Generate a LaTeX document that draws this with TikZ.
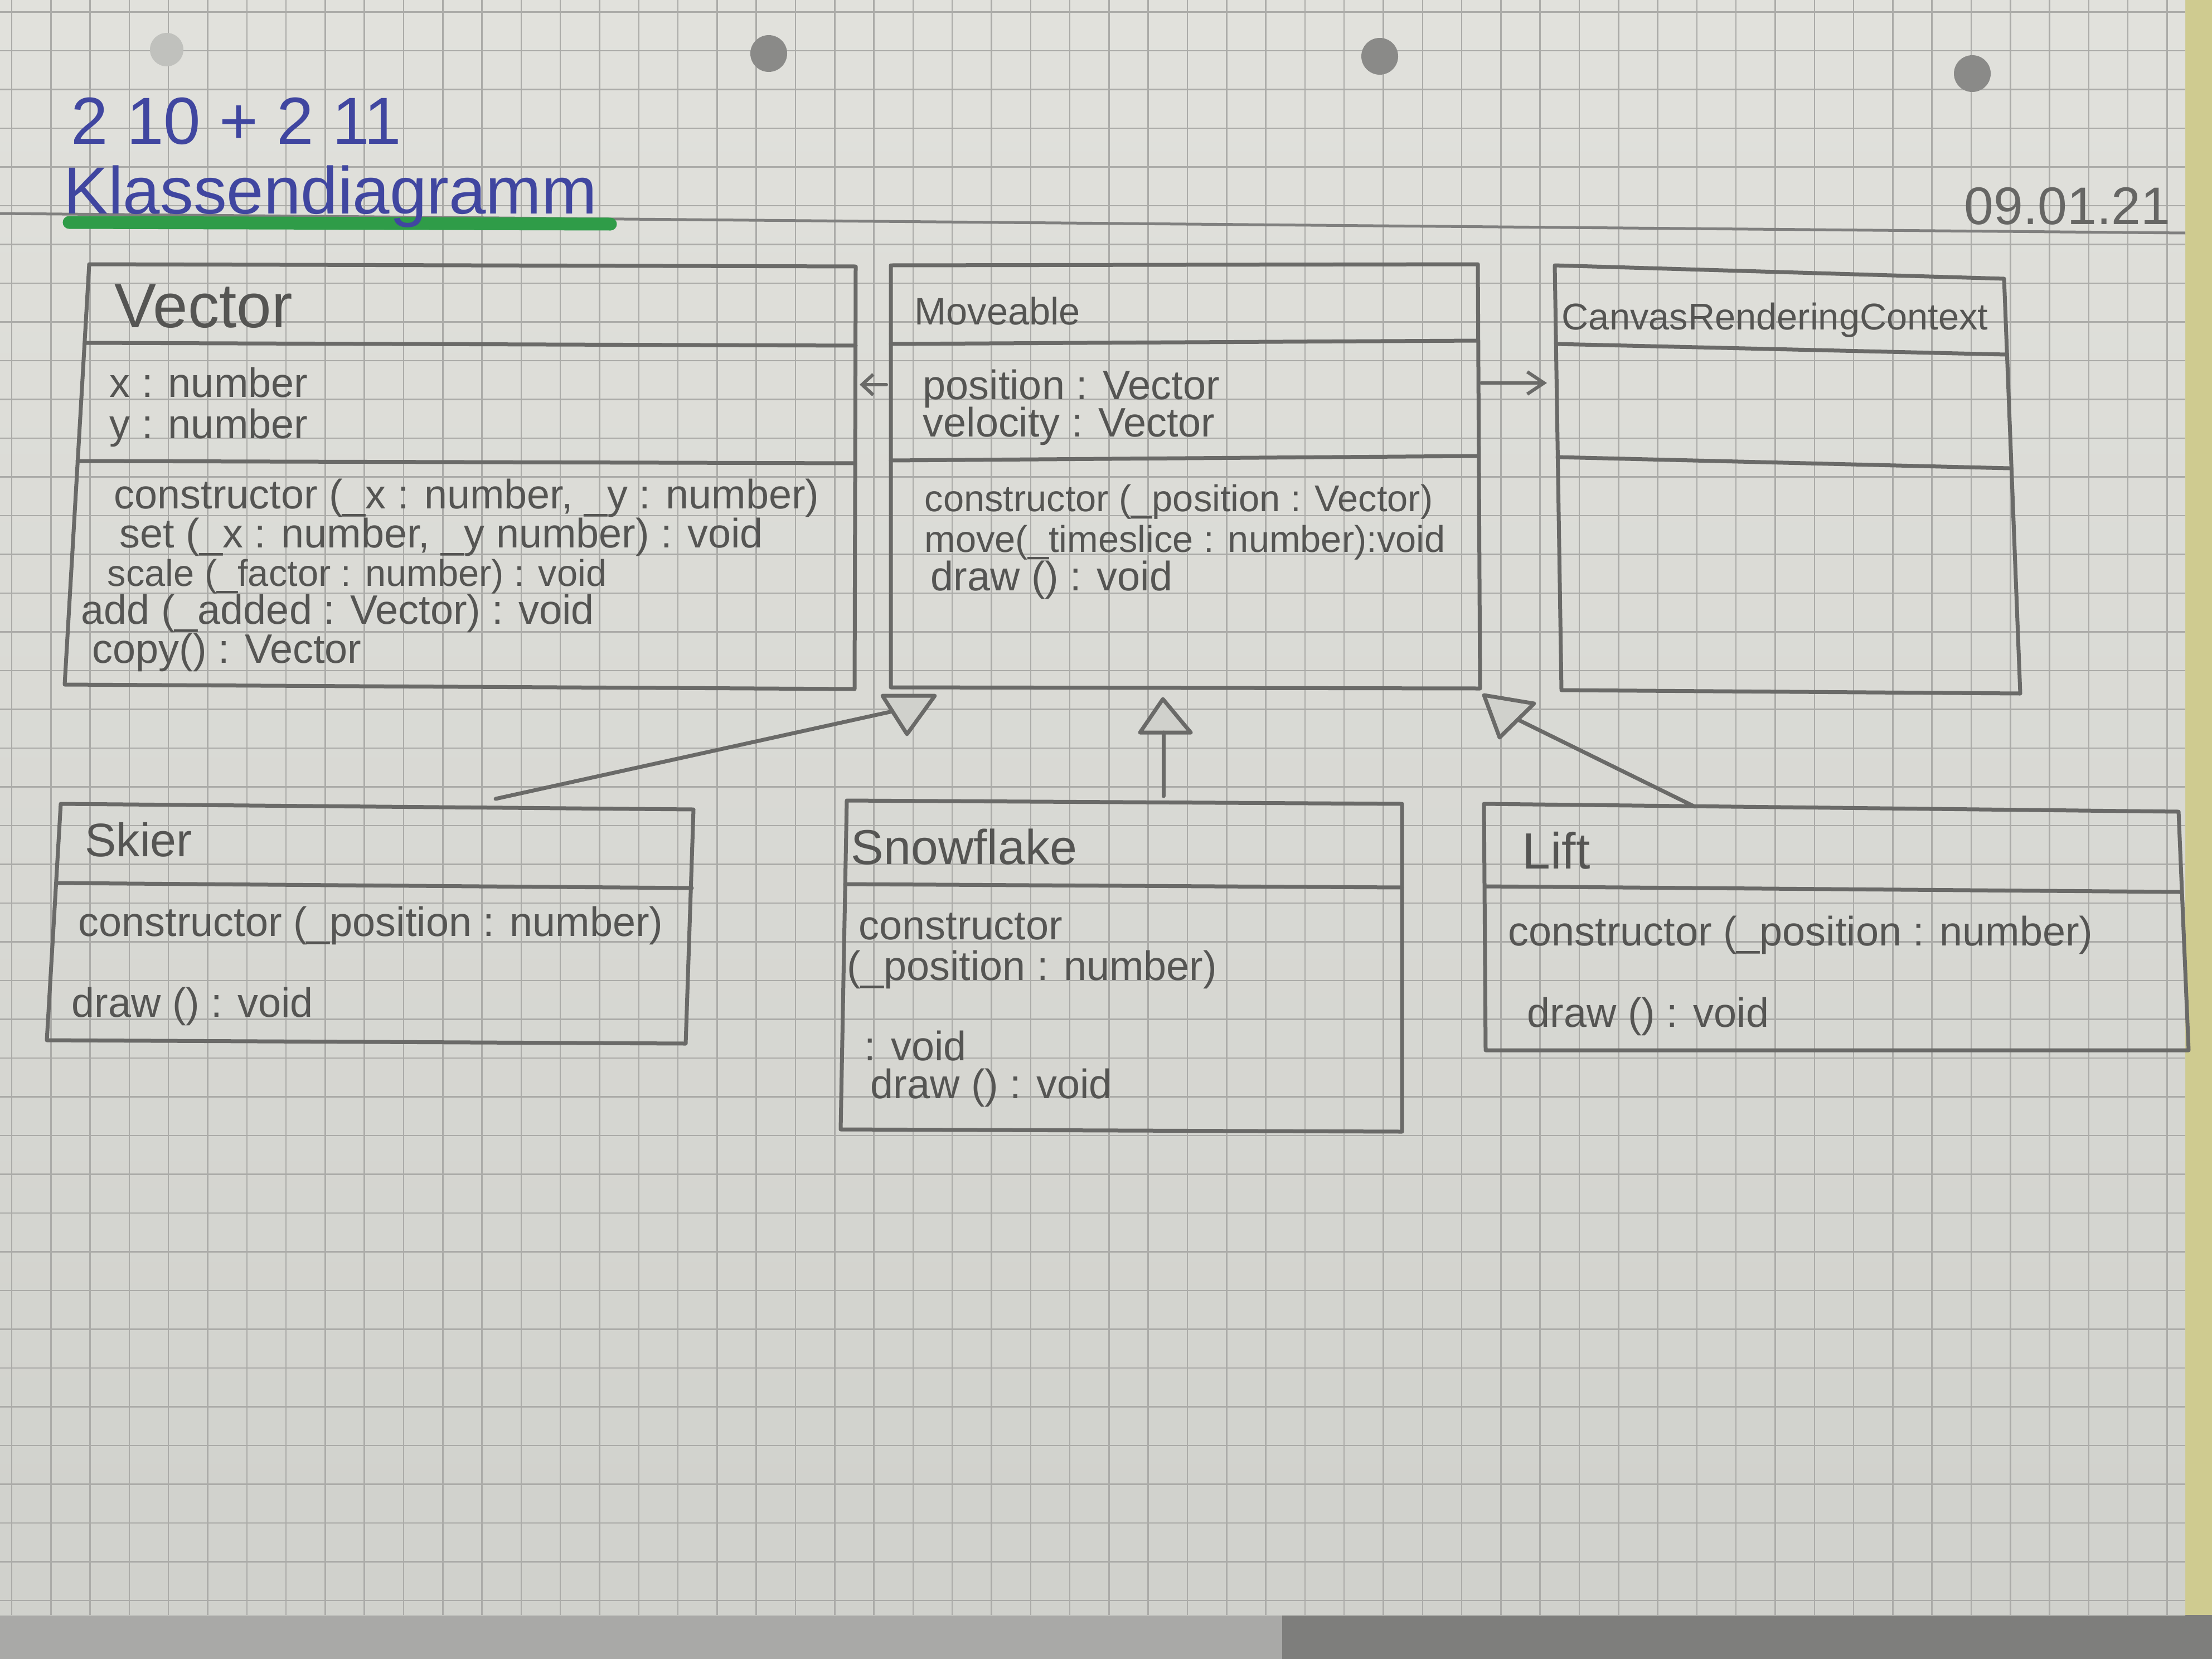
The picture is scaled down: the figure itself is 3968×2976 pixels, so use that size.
\documentclass[tikz,border=0pt]{standalone}
\usepackage{fontspec}
\setmainfont{Liberation Sans}
\usetikzlibrary{arrows.meta}

\definecolor{paperlight}{HTML}{E1E1DC}
\definecolor{paperdark}{HTML}{D0D1CC}
\definecolor{gridc}{HTML}{ABABA8}
\definecolor{pencilc}{HTML}{6A6A68}
\definecolor{textc}{HTML}{555553}
\definecolor{inkblue}{HTML}{4046A0}
\definecolor{markergreen}{HTML}{2F9C48}
\definecolor{deskyellow}{HTML}{CFCB90}
\definecolor{floorgrey}{HTML}{A9A9A7}
\definecolor{floordark}{HTML}{7E7E7C}
\definecolor{holec}{HTML}{8A8A88}

\tikzset{
  gridline/.style={draw=gridc, line width=0.25mm},
  pencil/.style={draw=pencilc, line width=0.7mm, line cap=round, line join=round},
  member/.style={anchor=base west, inner sep=0pt, text=textc,
    font=\fontsize{21pt}{23pt}\selectfont},
  narrowmember/.style={member, font=\fontsize{19pt}{21pt}\selectfont},
  classname/.style={anchor=base west, inner sep=0pt, text=textc},
  gentri/.style={pencil, fill=paperdark},
  assoc/.style={pencil, line width=0.6mm, -{Straight Barb[length=3mm,width=4mm]}},
}

\begin{document}
\begin{tikzpicture}[x=0.1mm, y=-0.1mm]
\useasboundingbox (0,0) rectangle (3968,2976);

% desk and sheet
\fill[deskyellow] (0,0) rectangle (3968,2976);
\fill[floorgrey] (0,2897) rectangle (3968,2976);
\fill[floordark] (2300,2897) rectangle (3968,2976);
\shade[top color=paperlight, bottom color=paperdark] (0,0) rectangle (3920,2897);

% squared ruling
\begin{scope}
  \clip (0,0) rectangle (3920,2897);
  \foreach \i in {0,...,55} \draw[gridline] ({21+70.3*\i},0) -- ({21+70.3*\i},2897);
  \foreach \j in {0,...,41} \draw[gridline] (0,{21.5+69.5*\j}) -- (3920,{21.5+69.5*\j});
  \draw[draw=pencilc!85, line width=0.5mm] (0,383) -- (3920,418);
\end{scope}

% punched holes
\fill[paperdark!80!gray] (299,89) circle (30);
\fill[holec] (1379,96) circle (33);
\fill[holec] (2475,101) circle (33);
\fill[holec] (3538,132) circle (33);

% heading
\node[anchor=base west, inner sep=0pt, text=inkblue, font=\fontsize{34pt}{36pt}\selectfont]
  (task) at (127,258) {2 10 + 2 11};
\draw[draw=markergreen, line width=2.3mm, line cap=round] (124,399) -- (1095,402);
\node[anchor=base west, inner sep=0pt, text=inkblue, font=\fontsize{34pt}{36pt}\selectfont]
  (heading) at (114,383) {Klassendiagramm};
\node[anchor=base west, inner sep=0pt, text=textc!90, font=\fontsize{27pt}{29pt}\selectfont]
  (date) at (3523,402) {09.01.21};

% ---------- class Vector ----------
\coordinate (V-nw) at (160,474);  \coordinate (V-ne) at (1535,478);
\coordinate (V-se) at (1533,1236); \coordinate (V-sw) at (116,1228);
\draw[pencil] (V-nw) -- (V-ne) -- (V-se) -- (V-sw) -- cycle;
\draw[pencil] (152,615) -- (1535,620);
\draw[pencil] (139,827) -- (1534,831);
\node[classname, font=\fontsize{32pt}{34pt}\selectfont] (vec-name) at (205,587) {Vector};
\node[member] (vec-a1) at (196,712) {x : number};
\node[member] (vec-a2) at (196,786) {y : number};
\node[member] (vec-m1) at (204,912) {constructor (\_x : number, \_y : number)};
\node[member] (vec-m2) at (214,982) {set (\_x : number, \_y number) : void};
\node[narrowmember] (vec-m3) at (192,1051) {scale (\_factor : number) : void};
\node[member] (vec-m4) at (145,1119) {add (\_added : Vector) : void};
\node[member] (vec-m5) at (165,1189) {copy() : Vector};

% ---------- class Moveable ----------
\coordinate (M-nw) at (1598,476);  \coordinate (M-ne) at (2651,474);
\coordinate (M-se) at (2655,1235); \coordinate (M-sw) at (1598,1233);
\draw[pencil] (M-nw) -- (M-ne) -- (M-se) -- (M-sw) -- cycle;
\draw[pencil] (1598,617) -- (2651,611);
\draw[pencil] (1598,826) -- (2652,818);
\node[classname, font=\fontsize{19.5pt}{21pt}\selectfont] (mov-name) at (1640,582) {Moveable};
\node[member] (mov-a1) at (1655,716) {position : Vector};
\node[member] (mov-a2) at (1655,783) {velocity : Vector};
\node[narrowmember] (mov-m1) at (1658,917) {constructor (\_position : Vector)};
\node[narrowmember] (mov-m2) at (1658,990) {move(\_timeslice : number):void};
\node[member] (mov-m3) at (1669,1059) {draw () : void};

% ---------- class CanvasRenderingContext ----------
\coordinate (C-nw) at (2789,476);  \coordinate (C-ne) at (3595,500);
\coordinate (C-se) at (3624,1244); \coordinate (C-sw) at (2801,1238);
\draw[pencil] (C-nw) -- (C-ne) -- (C-se) -- (C-sw) -- cycle;
\draw[pencil] (2791,617) -- (3598,636);
\draw[pencil] (2794,820) -- (3604,840);
\node[classname, font=\fontsize{19pt}{21pt}\selectfont] (crc-name) at (2801,591) {CanvasRenderingContext};

% ---------- class Skier ----------
\coordinate (S-nw) at (109,1442);  \coordinate (S-ne) at (1244,1452);
\coordinate (S-se) at (1230,1872); \coordinate (S-sw) at (84,1866);
\draw[pencil] (S-nw) -- (S-ne) -- (S-se) -- (S-sw) -- cycle;
\draw[pencil] (104,1584) -- (1241,1593);
\node[classname, font=\fontsize{24pt}{26pt}\selectfont] (ski-name) at (152,1536) {Skier};
\node[member] (ski-m1) at (140,1679) {constructor (\_position : number)};
\node[member] (ski-m2) at (128,1824) {draw () : void};

% ---------- class Snowflake ----------
\coordinate (F-nw) at (1519,1436); \coordinate (F-ne) at (2515,1442);
\coordinate (F-se) at (2515,2030); \coordinate (F-sw) at (1508,2026);
\draw[pencil] (F-nw) -- (F-ne) -- (F-se) -- (F-sw) -- cycle;
\draw[pencil] (1516,1586) -- (2515,1592);
\node[classname, font=\fontsize{25pt}{27pt}\selectfont] (snow-name) at (1526,1550) {Snowflake};
\node[member] (snow-m1) at (1540,1685) {constructor};
\node[member] (snow-m1b) at (1519,1758) {(\_position : number)};
\node[member] (snow-m1c) at (1550,1902) {: void};
\node[member] (snow-m2) at (1561,1970) {draw () : void};

% ---------- class Lift ----------
\coordinate (L-nw) at (2662,1442); \coordinate (L-ne) at (3908,1456);
\coordinate (L-se) at (3926,1884); \coordinate (L-sw) at (2665,1884);
\draw[pencil] (L-nw) -- (L-ne) -- (L-se) -- (L-sw) -- cycle;
\draw[pencil] (2664,1590) -- (3911,1600);
\node[classname, font=\fontsize{26pt}{28pt}\selectfont] (lift-name) at (2730,1558) {Lift};
\node[member] (lift-m1) at (2705,1696) {constructor (\_position : number)};
\node[member] (lift-m2) at (2739,1842) {draw () : void};

% ---------- associations ----------
\coordinate (M-al) at (1590,690); \coordinate (V-ar) at (1542,690);
\coordinate (M-ar) at (2657,687); \coordinate (C-al) at (2775,687);
\draw[assoc, -{Straight Barb[length=2mm,width=3.7mm]}] (M-al) -- (V-ar);
\draw[assoc] (M-ar) -- (C-al);

% ---------- generalisations ----------
\coordinate (gS-a) at (1583,1248); \coordinate (gS-b) at (1677,1248); \coordinate (gS-c) at (1627,1317);
\coordinate (gS-in) at (1601,1276); \coordinate (S-top) at (889,1433);
\draw[gentri] (gS-a) -- (gS-b) -- (gS-c) -- cycle;
\draw[pencil] (S-top) -- (gS-in);

\coordinate (gF-a) at (2045,1314); \coordinate (gF-b) at (2136,1314); \coordinate (gF-c) at (2086,1254);
\coordinate (gF-base) at (2087,1314); \coordinate (F-top) at (2087,1428);
\draw[gentri] (gF-a) -- (gF-b) -- (gF-c) -- cycle;
\draw[pencil] (F-top) -- (gF-base);

\coordinate (gL-a) at (2662,1247); \coordinate (gL-b) at (2752,1262); \coordinate (gL-c) at (2690,1323);
\coordinate (gL-in) at (2723,1291); \coordinate (L-top) at (3040,1447);
\draw[gentri] (gL-a) -- (gL-b) -- (gL-c) -- cycle;
\draw[pencil] (L-top) -- (gL-in);

\end{tikzpicture}
\end{document}
